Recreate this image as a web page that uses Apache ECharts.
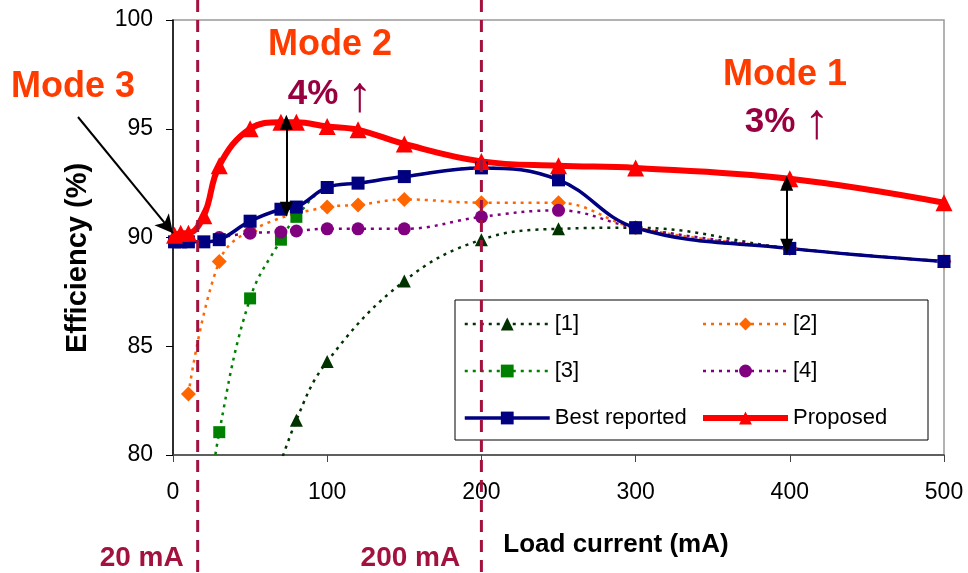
<!DOCTYPE html>
<html>
<head>
    <meta charset="utf-8">
    <title>Efficiency vs load current</title>
    <script src="https://cdn.jsdelivr.net/npm/echarts@6/dist/echarts.min.js"></script>
    <style type="text/css">
        html, body { margin: 0; padding: 0; background: #fff; }
        #main { width: 968px; height: 573px; }
    </style>
</head>
<body>
    <div id="main"></div>

    <script type="text/javascript">
        // values (load current in mA, efficiency in %)
        var propX = [1, 5, 10, 20, 30, 50, 70, 80, 100, 120, 150, 200, 250, 300, 400, 500];
        var propY = [90.1, 90.2, 90.2, 91.0, 93.3, 95.0, 95.3, 95.3, 95.1, 94.95, 94.3, 93.5, 93.3, 93.2, 92.7, 91.6];

        var bestX = [1, 5, 10, 20, 30, 50, 70, 80, 100, 120, 150, 200, 250, 300, 400, 500];
        var bestY = [89.8, 89.8, 89.8, 89.8, 89.9, 90.75, 91.3, 91.4, 92.3, 92.5, 92.8, 93.2, 92.65, 90.45, 89.5, 88.9];

        var r1X = [60, 80, 100, 150, 200, 250, 300, 400, 500];
        var r1Y = [77.5, 81.6, 84.3, 88.0, 89.9, 90.4, 90.45, 89.5, 88.9];

        var r2X = [10, 30, 50, 100, 120, 150, 200, 250, 300, 400, 500];
        var r2Y = [82.8, 88.9, 90.3, 91.4, 91.5, 91.75, 91.6, 91.6, 90.45, 89.5, 88.9];

        var r3X = [20, 30, 50, 70, 80, 100, 120, 150, 200, 250, 300, 400, 500];
        var r3Y = [76, 81.05, 87.2, 89.9, 90.95, 92.3, 92.5, 92.8, 93.2, 92.65, 90.45, 89.5, 88.9];

        var r4X = [30, 50, 70, 80, 100, 120, 150, 200, 250, 300, 400, 500];
        var r4Y = [90.0, 90.2, 90.25, 90.3, 90.4, 90.4, 90.4, 90.95, 91.25, 90.45, 89.5, 88.9];

        var xTicks = [0, 100, 200, 300, 400, 500];
        var yTicks = [80, 85, 90, 95, 100];
        // dashed mode borders: where they sit on the axis, and their labels
        var modeLineX = [16, 200];
        var modeLabels = ['20 mA', '200 mA'];

        function pairs(xs, ys) {
            var out = [];
            for (var i = 0; i < xs.length; i++) {
                out.push([xs[i], ys[i]]);
            }
            return out;
        }

        var FONT = 'Liberation Sans, Arial, sans-serif';
        var chart = echarts.init(document.getElementById('main'));

        function refSeries(name, xs, ys, color, symbol, size) {
            return {
                name: name,
                type: 'line',
                data: pairs(xs, ys),
                smooth: 0.4,
                symbol: symbol,
                symbolSize: size,
                itemStyle: { color: color },
                lineStyle: { color: color, width: 2.5, type: [3, 5] },
                emphasis: { disabled: true },
                animation: false
            };
        }

        function legendCol(names, left) {
            return {
                data: names,
                orient: 'vertical',
                left: left, top: 307,
                itemWidth: 85, itemHeight: 16, itemGap: 23,
                lineStyle: { width: 'inherit' },
                textStyle: { fontSize: 22, color: '#000', lineHeight: 24, fontFamily: FONT },
                selectedMode: false
            };
        }

        var option = {
            backgroundColor: '#fff',
            textStyle: { fontFamily: FONT },
            grid: {
                left: 173, right: 24, top: 20, bottom: 118,
                show: true, borderColor: '#999', borderWidth: 1.5
            },
            legend: [
                legendCol(['[1]', '[3]', 'Best reported'], 458),
                legendCol(['[2]', '[4]', 'Proposed'], 695)
            ],
            xAxis: {
                type: 'value',
                min: 0, max: 500, interval: 100,
                axisLine: { show: true, lineStyle: { color: '#444', width: 1.5 } },
                axisTick: { show: true, inside: false, length: 7, lineStyle: { color: '#444' } },
                axisLabel: {
                    margin: 26, fontSize: 23, color: '#000', fontFamily: FONT,
                    customValues: xTicks
                },
                splitLine: { show: false }
            },
            yAxis: {
                type: 'value',
                min: 80, max: 100, interval: 5,
                axisLine: { show: true, lineStyle: { color: '#000', width: 1.5 } },
                axisTick: { show: true, inside: false, length: 7, lineStyle: { color: '#000' } },
                axisLabel: {
                    margin: 20, fontSize: 23, color: '#000', fontFamily: FONT,
                    customValues: yTicks
                },
                splitLine: { show: false }
            },
            series: [
                refSeries('[1]', r1X, r1Y, '#003300', 'triangle', 13),
                refSeries('[2]', r2X, r2Y, '#FF6600', 'diamond', 15),
                refSeries('[3]', r3X, r3Y, '#008000', 'rect', 12),
                refSeries('[4]', r4X, r4Y, '#800080', 'circle', 13),
                {
                    name: 'Best reported',
                    type: 'line',
                    data: pairs(bestX, bestY),
                    smooth: 0.4,
                    symbol: 'rect',
                    symbolSize: 13,
                    itemStyle: { color: '#000080' },
                    lineStyle: { color: '#000080', width: 3.5 },
                    emphasis: { disabled: true },
                    animation: false
                },
                {
                    name: 'Proposed',
                    type: 'line',
                    data: pairs(propX, propY),
                    smooth: 0.4,
                    symbol: 'triangle',
                    symbolSize: 17,
                    itemStyle: { color: '#FF0000' },
                    lineStyle: { color: '#FF0000', width: 6 },
                    emphasis: { disabled: true },
                    animation: false,
                    markLine: {
                        silent: true,
                        animation: false,
                        symbol: ['triangle', 'triangle'],
                        symbolSize: [13, 15],
                        label: { show: false },
                        lineStyle: { color: '#000', width: 2, type: 'solid' },
                        data: [
                            [{ coord: [73.5, 95.3] }, { coord: [73.5, 91.3] }],
                            [{ coord: [398, 92.5] }, { coord: [398, 89.6] }],
                            [{ x: 78, y: 117, symbol: 'none' }, { coord: [0, 90.2], symbol: 'arrow', symbolSize: [14, 18] }]
                        ]
                    }
                }
            ]
        };
        chart.setOption(option);

        // annotations positioned from the axes
        var dashColor = '#A3123E';
        var modeColor = '#FF3C00';
        var pctColor = '#990040';
        var labelShift = [56, 71];
        var graphics = [];

        modeLineX.forEach(function (v, i) {
            var px = chart.convertToPixel({ xAxisIndex: 0 }, v);
            graphics.push({
                type: 'line', z: 5, silent: true,
                shape: { x1: px, y1: 0, x2: px, y2: 573 },
                style: { stroke: dashColor, lineWidth: 3, lineDash: [12, 8] }
            });
            graphics.push({
                type: 'text', z: 5,
                x: px - labelShift[i], y: 558,
                style: {
                    text: modeLabels[i], font: 'bold 28px ' + FONT, fill: dashColor,
                    textAlign: 'center', textVerticalAlign: 'middle'
                }
            });
        });

        // legend frame
        graphics.push({
            type: 'rect', z: 3, silent: true,
            shape: { x: 455, y: 300, width: 473, height: 140 },
            style: { fill: '#fff', stroke: '#000', lineWidth: 1 }
        });

        function label(text, x, y, size, color, weight) {
            graphics.push({
                type: 'text', z: 6, x: x, y: y,
                style: {
                    text: text, font: (weight || 'bold') + ' ' + size + 'px ' + FONT, fill: color,
                    textAlign: 'center', textVerticalAlign: 'middle'
                }
            });
        }

        label('Mode 3', 73, 87, 36, modeColor);
        label('Mode 2', 330, 45, 36, modeColor);
        label('Mode 1', 785, 75, 36, modeColor);
        label('4%', 313, 94, 35, pctColor);
        label('\u2191', 360, 97, 50, pctColor, 'normal');
        label('3%', 770, 122, 35, pctColor);
        label('\u2191', 817, 124, 50, pctColor, 'normal');
        label('Load current (mA)', 616, 545, 26, '#000');

        graphics.push({
            type: 'text', z: 6, x: 78, y: 258, rotation: Math.PI / 2,
            style: {
                text: 'Efficiency (%)', font: 'bold 29px ' + FONT, fill: '#000',
                textAlign: 'center', textVerticalAlign: 'middle'
            }
        });

        chart.setOption({ graphic: graphics });
    </script>
</body>
</html>
